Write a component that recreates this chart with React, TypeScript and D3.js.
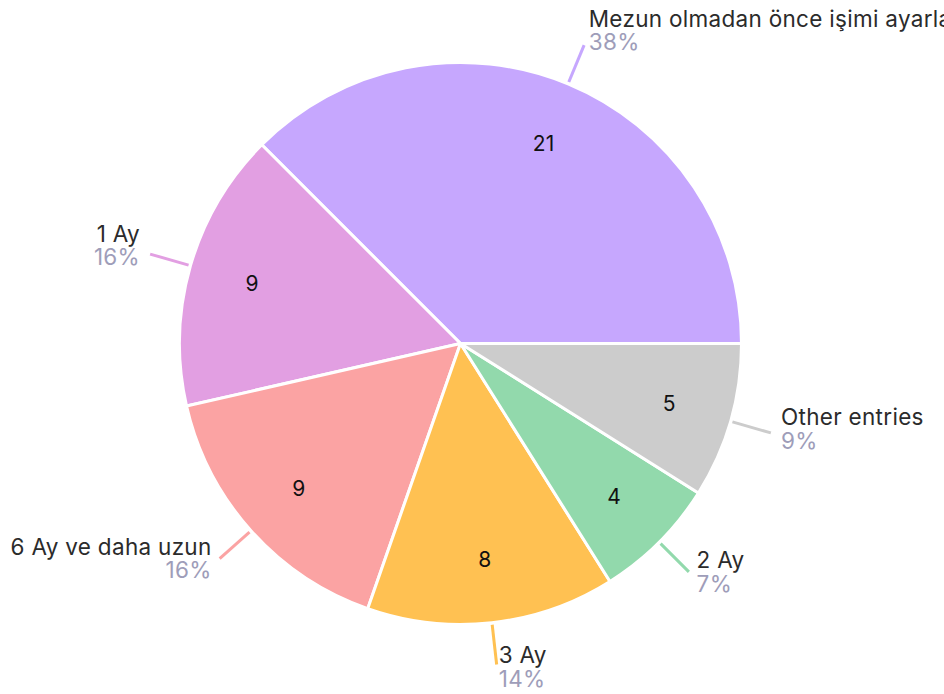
import React from "react";
import * as d3 from "d3";

const categories = [
  "Mezun olmadan önce işimi ayarla",
  "1 Ay",
  "6 Ay ve daha uzun",
  "3 Ay",
  "2 Ay",
  "Other entries",
];
const values = [21, 9, 9, 8, 4, 5];
const percentLabels = ["38%", "16%", "16%", "14%", "7%", "9%"];
const colors = ["#C6A7FE", "#E29FE2", "#FBA3A3", "#FFC152", "#92D9AC", "#CCCCCC"];

const W = 944;
const H = 694;
const CX = 460.5;
const CY = 343.5;
const R = 281;
const FONT = "Inter, 'Open Sans', sans-serif";

export default function App() {
  const pie = d3
    .pie<number>()
    .sort(null)
    .value((d) => d)
    .startAngle(Math.PI / 2)
    .endAngle(Math.PI / 2 - 2 * Math.PI);
  const arcs = pie(values);
  const arc = d3.arc<d3.PieArcDatum<number>>().innerRadius(0).outerRadius(R);
  const labelArc = d3.arc<d3.PieArcDatum<number>>().innerRadius(217).outerRadius(217);

  return (
    <svg
      width={W}
      height={H}
      style={{ position: "absolute", left: 0, top: 0, background: "#fff" }}
    >
      <g transform={`translate(${CX},${CY})`}>
        {arcs.map((a, i) => (
          <path key={"s" + i} d={arc(a) || ""} fill={colors[i]} stroke="#fff" strokeWidth={3} strokeLinejoin="round" />
        ))}
        {arcs.map((a, i) => {
          const [x, y] = labelArc.centroid(a);
          return (
            <text
              key={"v" + i}
              x={x}
              y={y}
              textAnchor="middle"
              dominantBaseline="central"
              fontFamily={FONT}
              fontSize={21}
              fill="#111"
            >
              {values[i]}
            </text>
          );
        })}
        {arcs.map((a, i) => {
          const mid = (a.startAngle + a.endAngle) / 2;
          const dx = Math.sin(mid);
          const dy = -Math.cos(mid);
          const x1 = dx * (R + 2);
          const y1 = dy * (R + 2);
          const x2 = dx * (R + 42);
          const y2 = dy * (R + 42);
          const right = dx >= 0;
          const gap = 1 + 9.5 * Math.abs(dx);
          const tx = x2 + (right ? gap : -gap);
          const nameY = y2 - 10 + 9 * dy;
          return (
            <g key={"l" + i}>
              <line x1={x1} y1={y1} x2={x2} y2={y2} stroke={colors[i]} strokeWidth={3} />
              <text
                x={tx}
                y={nameY}
                textAnchor={right ? "start" : "end"}
                fontFamily={FONT}
                fontSize={22.5}
                letterSpacing={0.3}
                fill="#2b2b2b"
              >
                {categories[i]}
              </text>
              <text
                x={tx}
                y={nameY + 23.5}
                textAnchor={right ? "start" : "end"}
                fontFamily={FONT}
                fontSize={22.5}
                letterSpacing={0.3}
                fill="#9E9DB9"
              >
                {percentLabels[i]}
              </text>
            </g>
          );
        })}
      </g>
    </svg>
  );
}
